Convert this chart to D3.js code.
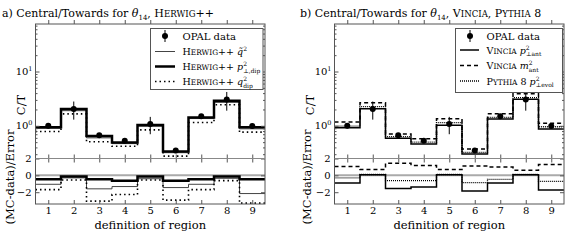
<!DOCTYPE html>
<html>
<head>
<meta charset="utf-8">
<script src="https://cdn.jsdelivr.net/npm/d3@7"></script>
<style>
  body { margin: 0; background: #fff; }
  text, tspan { font-family: "DejaVu Serif", serif !important; fill: #000; }
</style>
</head>
<body>
<svg id="chart" width="588" height="240"></svg>
<script>
// Datos
var regions = [1, 2, 3, 4, 5, 6, 7, 8, 9];
var opalData = [1.0, 2.05, 0.67, 0.53, 1.08, 0.35, 1.5, 3.05, 0.99];
var opalErr = [0.1, 0.75, 0.05, 0.04, 0.38, 0.02, 0.12, 1.15, 0.1];

// panel a) Herwig++
var herwigQtilde = [0.9, 1.9, 0.6, 0.47, 0.98, 0.32, 1.36, 2.7, 0.88];
var herwigPtDip = [0.945, 2.03, 0.646, 0.493, 1.04, 0.336, 1.42, 2.89, 0.945];
var herwigQDip = [0.785, 1.66, 0.51, 0.42, 0.84, 0.277, 1.15, 2.44, 0.765];
var herwigQtildeRatio = [-1.06, -0.3, -1.6, -1.33, -0.4, -1.45, -1.06, -0.35, -2.16];
var herwigPtDipRatio = [-0.47, -0.15, -0.47, -0.63, -0.15, -0.63, -0.47, -0.15, -0.47];
var herwigQDipRatio = [-1.69, -0.55, -3.06, -2.27, -0.55, -2.94, -1.69, -0.63, -3.3];

// panel b) Vincia, Pythia 8
var vinciaPt = [0.92, 2.07, 0.589, 0.46, 1.02, 0.302, 1.33, 3.08, 0.87];
var vinciaM = [1.17, 2.66, 0.706, 0.58, 1.35, 0.374, 1.67, 3.9, 1.11];
var pythiaPt = [0.99, 2.25, 0.63, 0.5, 1.14, 0.325, 1.43, 3.3, 0.96];
var vinciaPtRatio = [-0.9, 0.08, -1.57, -1.37, 0.08, -1.85, -0.9, 0.08, -1.73];
var vinciaMRatio = [1.06, 0.7, 1.45, 1.18, 0.7, 1.1, 0.98, 0.62, 1.3];
var pythiaPtRatio = [-0.3, 0.1, -0.63, -0.63, 0.1, -0.86, -0.47, 0.1, -0.71];

var topTicks = [1, 10];
var topMinorTicks = [0.3, 0.4, 0.5, 0.6, 0.7, 0.8, 0.9, 2, 3, 4, 5, 6, 7, 8, 9, 20, 30, 40, 50, 60, 70];
var ratioTicks = [-2, 0, 2];

var svg = d3.select("#chart");
var frameColor = "#555";

// versalitas a mano: minúsculas en mayúscula más pequeña
function smallCaps(sel, str, size) {
    var runs = str.match(/[a-z]+|[^a-z]+/g) || [];
    runs.forEach(function(r) {
        var lower = /[a-z]/.test(r[0]);
        sel.append("tspan").attr("font-size", lower ? size * 0.78 : size).text(r.toUpperCase());
    });
}

// Escribe una etiqueta tipo "Prefijo p^2_sub"
function mathText(sel, prefix, base, sup, sub, size) {
    if (prefix) smallCaps(sel, prefix, size);
    if (base) sel.append("tspan").attr("font-size", size).attr("font-style", "italic").text(base);
    if (sup) sel.append("tspan").attr("font-size", 6).attr("dy", -4).text(sup);
    if (sub) sel.append("tspan").attr("font-size", 6).attr("dx", sup ? -3.8 : 0).attr("dy", sup ? 6.5 : 3).text(sub);
}

function stepPoints(vals) {
    var pts = [];
    vals.forEach(function(v, i) {
        pts.push([regions[i] - 0.5, v]);
        pts.push([regions[i] + 0.5, v]);
    });
    return pts;
}

function drawPanel(p) {
    var g = svg.append("g");
    var x = d3.scaleLinear().domain([0.5, 9.5]).range([p.left, p.right]);
    var yTop = d3.scaleLog().domain([0.25, 75]).range([158.5, 24]);
    var yRat = d3.scaleLinear().domain([-3.4, 2]).range([204, 158.5]);

    var clipTop = "clipTop" + p.id, clipRat = "clipRat" + p.id;
    var defs = g.append("defs");
    defs.append("clipPath").attr("id", clipTop).append("rect")
        .attr("x", p.left).attr("y", 24).attr("width", p.right - p.left).attr("height", 134.5);
    defs.append("clipPath").attr("id", clipRat).append("rect")
        .attr("x", p.left).attr("y", 158.5).attr("width", p.right - p.left).attr("height", 45.5);

    // línea del cero en el panel de razón
    g.append("line")
        .attr("x1", p.left).attr("x2", p.right)
        .attr("y1", yRat(0)).attr("y2", yRat(0))
        .attr("stroke", "#aaa").attr("stroke-width", 2);

    var gTop = g.append("g").attr("clip-path", "url(#" + clipTop + ")");
    var gRat = g.append("g").attr("clip-path", "url(#" + clipRat + ")");

    p.series.forEach(function(s) {
        [[gTop, yTop, s.values], [gRat, yRat, s.ratio]].forEach(function(c) {
            var line = d3.line().x(function(d) { return x(d[0]); }).y(function(d) { return c[1](d[1]); });
            c[0].append("path")
                .attr("d", line(stepPoints(c[2])))
                .attr("fill", "none")
                .attr("stroke", s.color)
                .attr("stroke-width", s.width)
                .attr("stroke-dasharray", s.dash || null);
        });
    });

    // datos OPAL
    gTop.selectAll(".err").data(regions).enter().append("line")
        .attr("x1", function(d) { return x(d); }).attr("x2", function(d) { return x(d); })
        .attr("y1", function(d, i) { return yTop(opalData[i] - opalErr[i]); })
        .attr("y2", function(d, i) { return yTop(opalData[i] + opalErr[i]); })
        .attr("stroke", "#000").attr("stroke-width", 1);
    gTop.selectAll(".pt").data(regions).enter().append("circle")
        .attr("cx", function(d) { return x(d); })
        .attr("cy", function(d, i) { return yTop(opalData[i]); })
        .attr("r", 3).attr("fill", "#000");

    // ejes con marcas hacia dentro
    g.append("g").attr("transform", "translate(0,204)")
        .call(d3.axisBottom(x).tickValues(regions).tickSizeInner(-4).tickSizeOuter(0).tickPadding(3))
        .call(function(a) { a.select(".domain").remove(); a.selectAll("text").attr("font-size", 10); a.selectAll("line").attr("stroke", frameColor); });
    [158.5, 24].forEach(function(yy) {
        g.append("g").attr("transform", "translate(0," + yy + ")")
            .call(d3.axisBottom(x).tickValues(regions).tickSizeInner(-4).tickSizeOuter(0).tickFormat(""))
            .call(function(a) { a.select(".domain").remove(); a.selectAll("line").attr("stroke", frameColor); });
    });
    g.append("g").attr("transform", "translate(0,158.5)")
        .call(d3.axisTop(x).tickValues(regions).tickSizeInner(-4).tickSizeOuter(0).tickFormat(""))
        .call(function(a) { a.select(".domain").remove(); a.selectAll("line").attr("stroke", frameColor); });

    // ejes y (log arriba, lineal abajo), marcas a ambos lados
    [[d3.axisLeft, p.left], [d3.axisRight, p.right]].forEach(function(ax) {
        g.append("g").attr("transform", "translate(" + ax[1] + ",0)")
            .call(ax[0](yTop).tickValues(topTicks).tickSizeInner(-4).tickSizeOuter(0).tickFormat(""))
            .call(function(a) { a.select(".domain").remove(); a.selectAll("line").attr("stroke", frameColor); });
        g.append("g").attr("transform", "translate(" + ax[1] + ",0)")
            .call(ax[0](yTop).tickValues(topMinorTicks).tickSizeInner(-2).tickSizeOuter(0).tickFormat(""))
            .call(function(a) { a.select(".domain").remove(); a.selectAll("line").attr("stroke", frameColor); });
        g.append("g").attr("transform", "translate(" + ax[1] + ",0)")
            .call(ax[0](yRat).tickValues(ratioTicks).tickSizeInner(-4).tickSizeOuter(0).tickFormat(""))
            .call(function(a) { a.select(".domain").remove(); a.selectAll("line").attr("stroke", frameColor); });
    });
    topTicks.forEach(function(t) {
        var tx = g.append("text").attr("x", p.left - 3).attr("y", yTop(t) + 3.5)
            .attr("text-anchor", "end").attr("font-size", 10);
        tx.append("tspan").text("10");
        tx.append("tspan").attr("font-size", 6.5).attr("dy", -4).text(Math.round(Math.log10(t)));
    });
    ratioTicks.forEach(function(t) {
        g.append("text").attr("x", p.left - 4).attr("y", yRat(t) + 3.5)
            .attr("text-anchor", "end").attr("font-size", 10)
            .text(t < 0 ? "\u2212" + Math.abs(t) : t);
    });

    // marcos
    g.append("rect").attr("x", p.left).attr("y", 24).attr("width", p.right - p.left).attr("height", 180)
        .attr("fill", "none").attr("stroke", frameColor).attr("stroke-width", 1);
    g.append("line").attr("x1", p.left).attr("x2", p.right).attr("y1", 158.5).attr("y2", 158.5)
        .attr("stroke", "#888").attr("stroke-width", 1);

    // etiquetas de ejes
    g.append("text").attr("x", (p.left + p.right) / 2).attr("y", 229)
        .attr("text-anchor", "middle").attr("font-size", 11.5).text("definition of region");
    g.append("text").attr("transform", "translate(" + p.ctX + ",105) rotate(-90)")
        .attr("text-anchor", "middle").attr("font-size", 11.5).text("C/T");
    g.append("text").attr("transform", "translate(" + p.errX + ",177) rotate(-90)")
        .attr("text-anchor", "middle").attr("font-size", 11.5).text("(MC-data)/Error");

    // título
    var tt = g.append("text").attr("x", p.titleX).attr("y", 17).attr("font-size", 11);
    tt.append("tspan").text(p.titleStart);
    tt.append("tspan").attr("font-style", "italic").text("\u03b8");
    tt.append("tspan").attr("font-size", 7).attr("dy", 3).text("14");
    tt.append("tspan").attr("dy", -3).text(", ");
    p.titleParts.forEach(function(part, i) {
        smallCaps(tt, part, 11);
        if (i < p.titleParts.length - 1) tt.append("tspan").attr("font-size", 11).text(", ");
    });

    // leyenda
    var L = p.legend;
    g.append("rect").attr("x", L.x).attr("y", L.y).attr("width", L.w).attr("height", L.h)
        .attr("fill", "#fff").attr("stroke", frameColor).attr("stroke-width", 1);
    L.rows.forEach(function(ry, i) {
        var hx = L.hx;
        if (i === 0) {
            g.append("line").attr("x1", hx + 10).attr("x2", hx + 10).attr("y1", ry - 6).attr("y2", ry + 6)
                .attr("stroke", "#000").attr("stroke-width", 1);
            g.append("circle").attr("cx", hx + 10).attr("cy", ry).attr("r", 3).attr("fill", "#000");
            g.append("text").attr("x", L.tx).attr("y", ry + 3.5).attr("font-size", 10).text("OPAL data");
        } else {
            var s = p.series[i - 1];
            g.append("line").attr("x1", hx).attr("x2", hx + L.hw).attr("y1", ry).attr("y2", ry)
                .attr("stroke", s.color).attr("stroke-width", s.width)
                .attr("stroke-dasharray", s.dash || null);
            var lt = g.append("text").attr("x", L.tx).attr("y", ry + 3.5);
            mathText(lt, s.label[0], s.label[1], s.label[2], s.label[3], 9.5);
        }
    });
}

drawPanel({
    id: "a", left: 35.5, right: 265, ctX: 25, errX: 14,
    titleX: 2, titleStart: "a) Central/Towards for ", titleParts: ["Herwig++"],
    series: [
        { values: herwigQtilde, ratio: herwigQtildeRatio, color: "#444", width: 1, label: ["Herwig++ ", "q\u0303", "2", ""] },
        { values: herwigPtDip, ratio: herwigPtDipRatio, color: "#000", width: 2.5, label: ["Herwig++ ", "p", "2", "\u22a5,dip"] },
        { values: herwigQDip, ratio: herwigQDipRatio, color: "#000", width: 1.6, dash: "1.5,3", label: ["Herwig++ ", "q", "2", "dip"] }
    ],
    legend: { x: 150.5, y: 28.5, w: 112.5, h: 61, rows: [36, 51.5, 66.5, 81.5], hx: 155, hw: 20, tx: 182.5 }
});

drawPanel({
    id: "b", left: 334.5, right: 564, ctX: 314, errX: 311,
    titleX: 300, titleStart: "b) Central/Towards for ", titleParts: ["Vincia", "Pythia 8"],
    series: [
        { values: vinciaPt, ratio: vinciaPtRatio, color: "#000", width: 1.5, label: ["Vincia ", "p", "2", "\u22a5ant"] },
        { values: vinciaM, ratio: vinciaMRatio, color: "#000", width: 1.5, dash: "4,3", label: ["Vincia ", "m", "2", "ant"] },
        { values: pythiaPt, ratio: pythiaPtRatio, color: "#000", width: 1.3, dash: "1,1", label: ["Pythia 8 ", "p", "2", "\u22a5evol"] }
    ],
    legend: { x: 455.5, y: 28.5, w: 107, h: 64, rows: [36, 50, 65.5, 81], hx: 460, hw: 19, tx: 486.5 }
});
</script>
</body>
</html>
